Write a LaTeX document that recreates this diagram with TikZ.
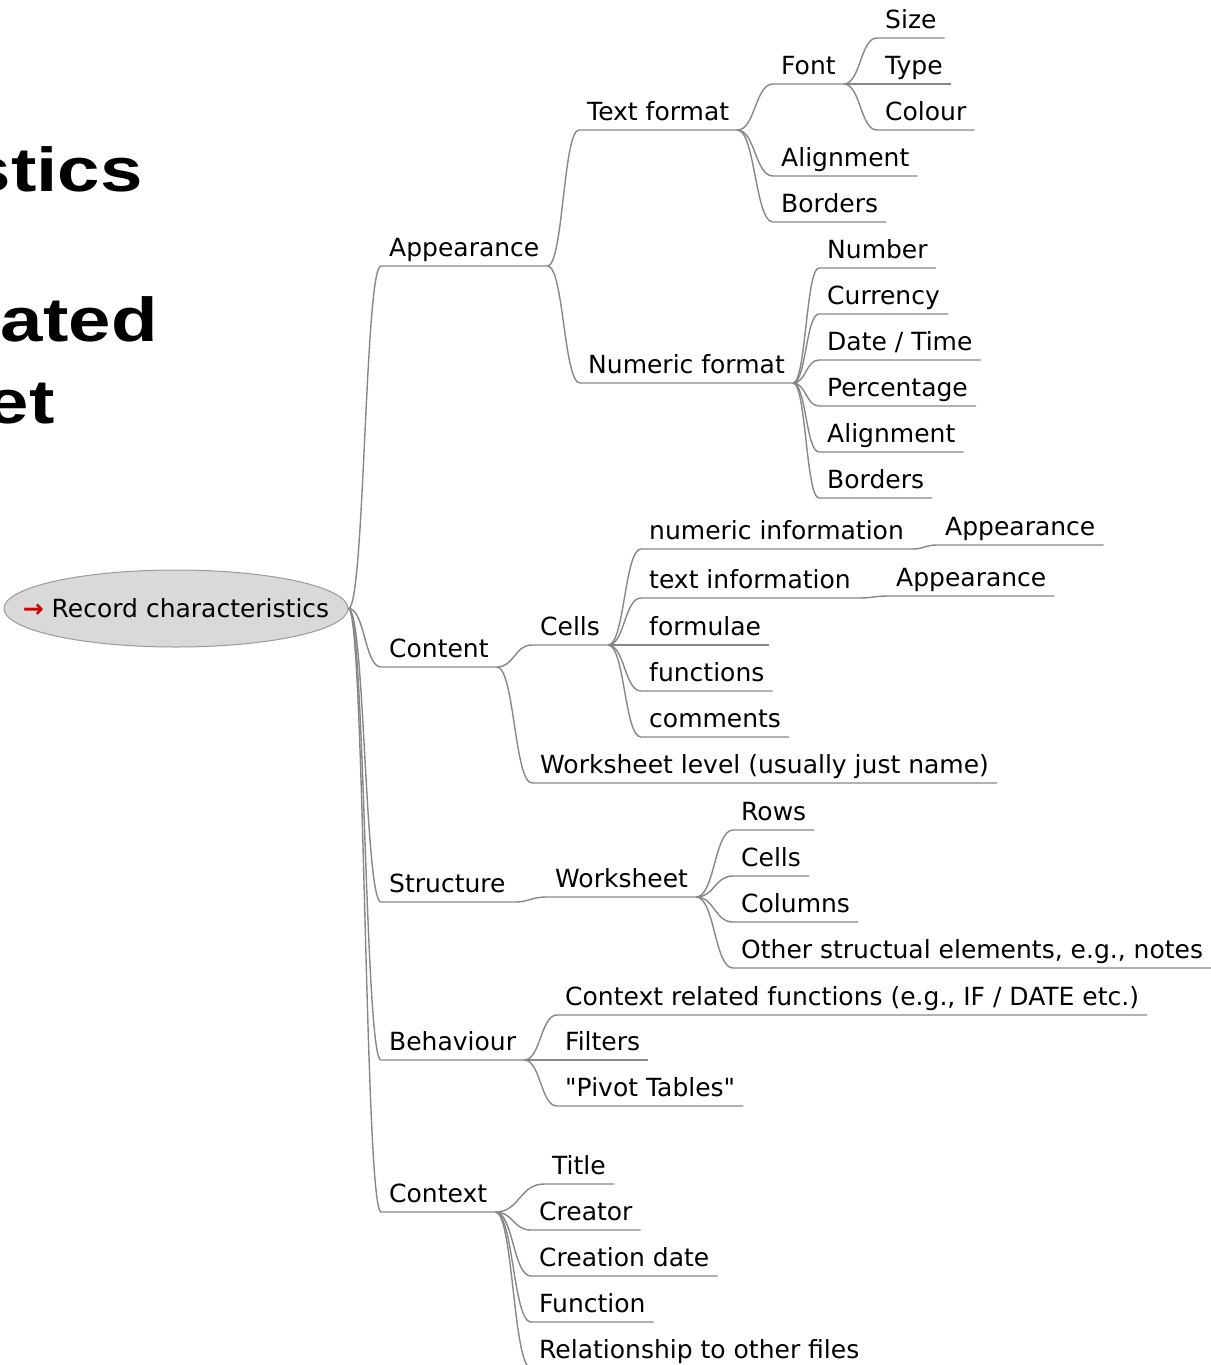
\documentclass[tikz,border=0pt]{standalone}
\usepackage{fontspec}
\setmainfont{DejaVu Sans}[Ligatures=TeXOff]
\newfontfamily\headfont{Liberation Sans Bold}[FakeStretch=1.23]
\usepackage{tikz}
\usetikzlibrary{positioning,shapes.geometric,calc}
\definecolor{edgegray}{HTML}{878787}
\definecolor{rootfill}{HTML}{D9D9D9}
\definecolor{rootline}{HTML}{9A9A9A}
\definecolor{arrowred}{HTML}{D00000}

\begin{document}
\begin{tikzpicture}[x=1pt, y=-1pt,
    every node/.style={font=\fontsize{25}{30}\selectfont},
    idea/.style={anchor=south west, inner xsep=8pt, inner ysep=3pt, text depth=6pt},
    headline/.style={anchor=base east, inner sep=0pt, font=\headfont\fontsize{62}{70}\selectfont},
    twig/.style={to path={let \p1=(\tikztostart), \p2=(\tikztotarget) in
        .. controls ({(\x1+\x2)/2},\y1) and ({(\x1+\x2)/2},\y2) .. (\tikztotarget)}},
    branch/.style={draw=edgegray, line width=1.4pt}]
    \useasboundingbox (0,0) rectangle (1210,1365);
    \node[headline](headone) at (143,191){stics};
    \node[headline](headtwo) at (158,341){ated};
    \node[headline](headthree) at (55,423){et};

    \node[ellipse, draw=rootline, fill=rootfill, line width=1pt, minimum width=344pt, minimum height=77pt, inner xsep=-40pt, inner ysep=0pt](root) at (176,608.5){\textcolor{arrowred}{\bfseries →} Record characteristics};

    \node[idea](appearance) at (381,266){Appearance};
    \draw[branch](root.east) to[twig] (appearance.south west) -- (appearance.south east);
    \node[idea](textformat) at (579,130){Text format};
    \draw[branch](appearance.south east) to[twig] (textformat.south west) -- (textformat.south east);
    \node[idea](font) at (773,84){Font};
    \draw[branch](textformat.south east) to[twig] (font.south west) -- (font.south east);
    \node[idea](size) at (877,38){Size};
    \draw[branch](font.south east) to[twig] (size.south west) -- (size.south east);
    \node[idea](type) at (877,84){Type};
    \draw[branch](font.south east) to[twig] (type.south west) -- (type.south east);
    \node[idea](colour) at (877,130){Colour};
    \draw[branch](font.south east) to[twig] (colour.south west) -- (colour.south east);
    \node[idea](alignment) at (773,176){Alignment};
    \draw[branch](textformat.south east) to[twig] (alignment.south west) -- (alignment.south east);
    \node[idea](borders) at (773,222){Borders};
    \draw[branch](textformat.south east) to[twig] (borders.south west) -- (borders.south east);
    \node[idea](numformat) at (580,383){Numeric format};
    \draw[branch](appearance.south east) to[twig] (numformat.south west) -- (numformat.south east);
    \node[idea](number) at (819,268){Number};
    \draw[branch](numformat.south east) to[twig] (number.south west) -- (number.south east);
    \node[idea](currency) at (819,314){Currency};
    \draw[branch](numformat.south east) to[twig] (currency.south west) -- (currency.south east);
    \node[idea](datetime) at (819,360){Date / Time};
    \draw[branch](numformat.south east) to[twig] (datetime.south west) -- (datetime.south east);
    \node[idea](percentage) at (819,406){Percentage};
    \draw[branch](numformat.south east) to[twig] (percentage.south west) -- (percentage.south east);
    \node[idea](numalign) at (819,452){Alignment};
    \draw[branch](numformat.south east) to[twig] (numalign.south west) -- (numalign.south east);
    \node[idea](numborders) at (819,498){Borders};
    \draw[branch](numformat.south east) to[twig] (numborders.south west) -- (numborders.south east);

    \node[idea](content) at (381,667){Content};
    \draw[branch](root.east) to[twig] (content.south west) -- (content.south east);
    \node[idea](cells) at (532,645){Cells};
    \draw[branch](content.south east) to[twig] (cells.south west) -- (cells.south east);
    \node[idea](numinfo) at (641,549){numeric information};
    \draw[branch](cells.south east) to[twig] (numinfo.south west) -- (numinfo.south east);
    \node[idea](numlook) at (937,545){Appearance};
    \draw[branch](numinfo.south east) to[twig] (numlook.south west) -- (numlook.south east);
    \node[idea](textinfo) at (641,598){text information};
    \draw[branch](cells.south east) to[twig] (textinfo.south west) -- (textinfo.south east);
    \node[idea](textlook) at (888,596){Appearance};
    \draw[branch](textinfo.south east) to[twig] (textlook.south west) -- (textlook.south east);
    \node[idea](formulae) at (641,645){formulae};
    \draw[branch](cells.south east) to[twig] (formulae.south west) -- (formulae.south east);
    \node[idea](functions) at (641,691){functions};
    \draw[branch](cells.south east) to[twig] (functions.south west) -- (functions.south east);
    \node[idea](comments) at (641,737){comments};
    \draw[branch](cells.south east) to[twig] (comments.south west) -- (comments.south east);
    \node[idea](wslevel) at (532,783){Worksheet level (usually just name)};
    \draw[branch](content.south east) to[twig] (wslevel.south west) -- (wslevel.south east);

    \node[idea](structure) at (381,902){Structure};
    \draw[branch](root.east) to[twig] (structure.south west) -- (structure.south east);
    \node[idea](worksheet) at (547,897){Worksheet};
    \draw[branch](structure.south east) to[twig] (worksheet.south west) -- (worksheet.south east);
    \node[idea](rows) at (733,830){Rows};
    \draw[branch](worksheet.south east) to[twig] (rows.south west) -- (rows.south east);
    \node[idea](wscells) at (733,876){Cells};
    \draw[branch](worksheet.south east) to[twig] (wscells.south west) -- (wscells.south east);
    \node[idea](columns) at (733,922){Columns};
    \draw[branch](worksheet.south east) to[twig] (columns.south west) -- (columns.south east);
    \node[idea](otherelems) at (733,968){Other structual elements, e.g., notes};
    \draw[branch](worksheet.south east) to[twig] (otherelems.south west) -- (otherelems.south east);

    \node[idea](behaviour) at (381,1060){Behaviour};
    \draw[branch](root.east) to[twig] (behaviour.south west) -- (behaviour.south east);
    \node[idea](ctxfunctions) at (557,1015){Context related functions (e.g., IF / DATE etc.)};
    \draw[branch](behaviour.south east) to[twig] (ctxfunctions.south west) -- (ctxfunctions.south east);
    \node[idea](filters) at (557,1060){Filters};
    \draw[branch](behaviour.south east) to[twig] (filters.south west) -- (filters.south east);
    \node[idea](pivot) at (557,1106){"Pivot Tables"};
    \draw[branch](behaviour.south east) to[twig] (pivot.south west) -- (pivot.south east);

    \node[idea](context) at (381,1212){Context};
    \draw[branch](root.east) to[twig] (context.south west) -- (context.south east);
    \node[idea](title) at (544,1184){Title};
    \draw[branch](context.south east) to[twig] (title.south west) -- (title.south east);
    \node[idea](creator) at (531,1230){Creator};
    \draw[branch](context.south east) to[twig] (creator.south west) -- (creator.south east);
    \node[idea](creationdate) at (531,1276){Creation date};
    \draw[branch](context.south east) to[twig] (creationdate.south west) -- (creationdate.south east);
    \node[idea](function) at (531,1322){Function};
    \draw[branch](context.south east) to[twig] (function.south west) -- (function.south east);
    \node[idea](relation) at (531,1368){Relationship to other files};
    \draw[branch](context.south east) to[twig] (relation.south west) -- (relation.south east);
\end{tikzpicture}
\end{document}
